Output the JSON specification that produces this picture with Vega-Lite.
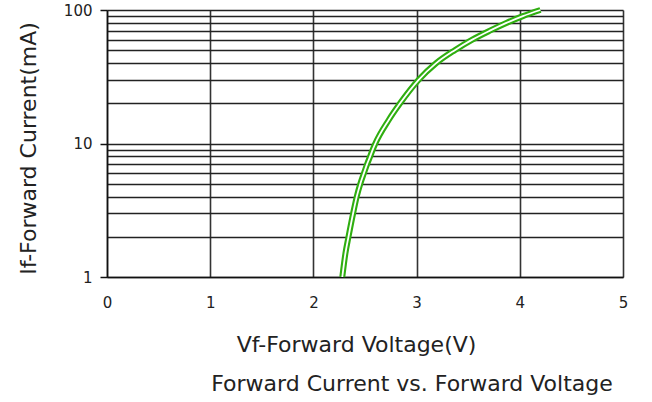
{
  "$schema": "https://vega.github.io/schema/vega-lite/v6.json",
  "autosize": "none",
  "width": 516,
  "height": 267,
  "padding": {"left": 107, "top": 10, "right": 29, "bottom": 125},
  "background": "white",
  "config": {
    "view": {"stroke": null},
    "font": "DejaVu Sans",
    "axis": {"labelFont": "DejaVu Sans", "titleFont": "DejaVu Sans", "labelColor": "#222", "titleColor": "#222"}
  },
  "title": {
    "text": "Forward Current vs. Forward Voltage",
    "orient": "bottom",
    "anchor": "middle",
    "frame": "group",
    "dx": 47,
    "offset": 19,
    "fontSize": 22,
    "fontWeight": "normal",
    "font": "DejaVu Sans",
    "color": "#222"
  },
  "data": {
    "values": [
      {"v": 2.28, "i": 1},
      {"v": 2.31, "i": 1.5},
      {"v": 2.34, "i": 2},
      {"v": 2.385, "i": 3},
      {"v": 2.42, "i": 4},
      {"v": 2.455, "i": 5},
      {"v": 2.49, "i": 6},
      {"v": 2.52, "i": 7},
      {"v": 2.55, "i": 8},
      {"v": 2.575, "i": 9},
      {"v": 2.6, "i": 10},
      {"v": 2.73, "i": 15},
      {"v": 2.84, "i": 20},
      {"v": 3.02, "i": 30},
      {"v": 3.19, "i": 40},
      {"v": 3.37, "i": 50},
      {"v": 3.54, "i": 60},
      {"v": 3.71, "i": 70},
      {"v": 3.87, "i": 80},
      {"v": 4.03, "i": 90},
      {"v": 4.2, "i": 100}
    ]
  },
  "encoding": {
    "x": {
      "field": "v",
      "type": "quantitative",
      "scale": {"domain": [0, 5], "nice": false, "zero": false},
      "axis": {
        "title": "Vf-Forward Voltage(V)",
        "titleFontSize": 22,
        "titleFontWeight": "normal",
        "titleX": 249,
        "titleY": 67,
        "titleBaseline": "middle",
        "values": [0, 1, 2, 3, 4, 5],
        "labelFontSize": 15,
        "labelPadding": 18,
        "labelFlush": false,
        "tickSize": 0,
        "grid": true,
        "gridColor": "#333",
        "gridWidth": 1.6,
        "domainColor": "#111",
        "domainWidth": 1.5
      }
    },
    "y": {
      "field": "i",
      "type": "quantitative",
      "scale": {"type": "log", "domain": [1, 100], "nice": false},
      "axis": {
        "title": "If-Forward Current(mA)",
        "titleFontSize": 22,
        "titleFontWeight": "normal",
        "titleAngle": -90,
        "titleX": -79,
        "titleY": 138,
        "titleAlign": "center",
        "titleBaseline": "middle",
        "values": [1, 2, 3, 4, 5, 6, 7, 8, 9, 10, 20, 30, 40, 50, 60, 70, 80, 90, 100],
        "labelExpr": "datum.value == 1 || datum.value == 10 || datum.value == 100 ? datum.label : ''",
        "labelFontSize": 15,
        "labelPadding": 8,
        "tickSize": 7,
        "tickColor": "#111",
        "tickWidth": 1.5,
        "tickOpacity": {"condition": {"test": "datum.value == 1 || datum.value == 10 || datum.value == 100", "value": 1}, "value": 0},
        "grid": true,
        "gridColor": "#222",
        "gridWidth": 1.5,
        "domainColor": "#111",
        "domainWidth": 1.5
      }
    }
  },
  "layer": [
    {"mark": {"type": "line", "color": "#2fae10", "strokeWidth": 6, "interpolate": "monotone", "strokeCap": "butt"}},
    {"mark": {"type": "line", "color": "white", "strokeWidth": 1.8, "interpolate": "monotone", "strokeCap": "butt"}}
  ]
}
